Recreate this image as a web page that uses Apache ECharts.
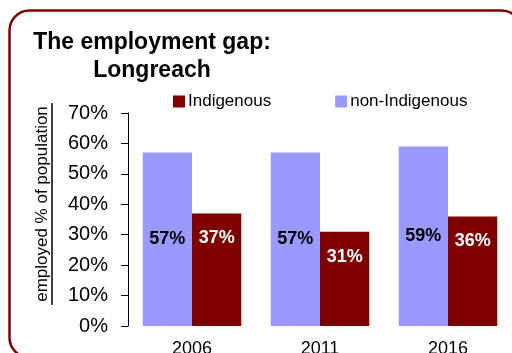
<!DOCTYPE html>
<html>
<head>
<meta charset="utf-8">
<script src="https://cdn.jsdelivr.net/npm/echarts@6/dist/echarts.min.js"></script>
<style>
  html, body { margin: 0; padding: 0; background: #fff; }
  #chart { width: 512px; height: 353px; }
</style>
</head>
<body>
<div id="chart"></div>
<script>
// Census years and employment rates (% of population employed)
const years = ['2006', '2011', '2016'];
const nonIndigenous = [57, 57, 59];
const indigenous = [37, 31, 36];
const yTicks = [0, 10, 20, 30, 40, 50, 60, 70];

const FONT = '"Liberation Sans", Arial, Helvetica, sans-serif';
const DARK_RED = '#800000';
const LAVENDER = '#9999FF';

const chart = echarts.init(document.getElementById('chart'), null, { renderer: 'canvas' });

chart.setOption({
  animation: false,
  backgroundColor: '#fff',
  textStyle: { fontFamily: FONT },
  graphic: [
    {
      type: 'rect',
      shape: { x: 9.5, y: 10.5, width: 512, height: 347, r: 20 },
      style: { fill: 'none', stroke: DARK_RED, lineWidth: 2.5 },
      silent: true
    },
    {
      type: 'text',
      x: 152, y: 29,
      style: {
        text: 'The employment gap:\nLongreach',
        fontFamily: FONT, fontSize: 23, fontWeight: 'bold',
        lineHeight: 28, fill: '#000', textAlign: 'center', textVerticalAlign: 'top'
      }
    },
    {
      type: 'text',
      x: 42, y: 204,
      rotation: Math.PI / 2,
      style: {
        text: 'employed % of population',
        fontFamily: FONT, fontSize: 17, fill: '#000',
        textAlign: 'center', textVerticalAlign: 'middle'
      }
    },
    {
      type: 'line',
      shape: { x1: 52, y1: 103, x2: 52, y2: 305 },
      style: { stroke: '#000', lineWidth: 1.5 },
      silent: true
    }
  ],
  legend: {
    data: ['Indigenous', 'non-Indigenous'],
    left: 173, top: 93,
    padding: 0,
    icon: 'rect',
    itemWidth: 12, itemHeight: 12,
    itemGap: 64,
    textStyle: { fontFamily: FONT, fontSize: 17, color: '#000', padding: [0, 0, 0, -2] }
  },
  grid: {
    left: 128, right: 0, top: 113, bottom: 27,
    containLabel: false,
    outerBoundsMode: 'none'
  },
  xAxis: {
    type: 'category',
    data: years,
    axisLine: { show: false },
    axisTick: { show: false },
    axisLabel: { fontFamily: FONT, fontSize: 18, color: '#000', margin: 14 }
  },
  yAxis: {
    type: 'value',
    min: yTicks[0],
    max: yTicks[yTicks.length - 1],
    interval: 10,
    axisLine: { show: true, lineStyle: { color: '#000', width: 1 } },
    axisTick: { show: true, length: 7, lineStyle: { color: '#000' } },
    splitLine: { show: false },
    axisLabel: {
      fontFamily: FONT, fontSize: 20, color: '#000', margin: 20,
      formatter: v => v + '%'
    }
  },
  series: [
    {
      name: 'non-Indigenous',
      type: 'bar',
      data: nonIndigenous,
      itemStyle: { color: LAVENDER },
      barGap: '0%',
      barCategoryGap: '23%',
      label: {
        show: true, position: 'inside',
        formatter: p => p.value + '%',
        fontFamily: FONT, fontSize: 18, fontWeight: 'bold', color: '#000'
      }
    },
    {
      name: 'Indigenous',
      type: 'bar',
      data: indigenous,
      itemStyle: { color: DARK_RED },
      barGap: '0%',
      barCategoryGap: '23%',
      label: {
        show: true, position: 'insideTop', distance: 16,
        formatter: p => p.value + '%',
        fontFamily: FONT, fontSize: 18, fontWeight: 'bold', color: '#fff'
      }
    }
  ]
});
</script>
</body>
</html>
